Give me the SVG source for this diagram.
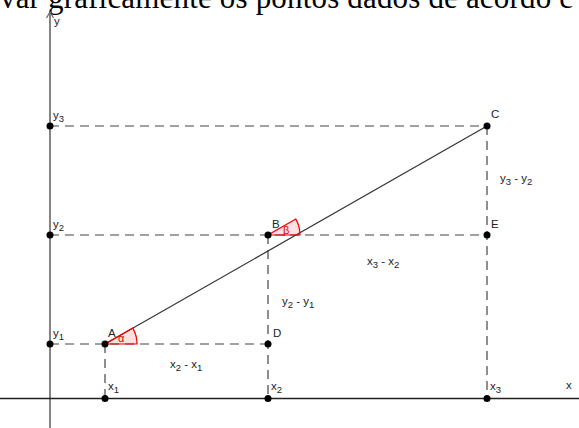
<svg xmlns="http://www.w3.org/2000/svg" width="579" height="428" viewBox="0 0 579 428">
<style>
.lbl{font-family:"Liberation Sans",Arial,sans-serif;font-size:11.5px;fill:#222}
.sub{font-size:9.5px}
.dash{stroke:#444;stroke-width:1.2;stroke-dasharray:9,6;fill:none}
.pt{fill:#000}
.ang{fill:rgba(255,0,0,0.12);stroke:#e00;stroke-width:1.2}
.gr{font-family:"Liberation Sans",Arial,sans-serif;font-size:11px;fill:#d00}
</style>
<rect width="579" height="428" fill="#fff"/>
<text x="0" y="8" font-family="Liberation Serif,'Times New Roman',serif" font-size="31" fill="#000" textLength="573" lengthAdjust="spacing">var graficamente os pontos dados de acordo c</text>
<g id="axes">
<line x1="50" y1="12" x2="50" y2="428" stroke="#666" stroke-width="1.6"/>
<path d="M46.5,18 L50,12 L53.5,18" fill="none" stroke="#666" stroke-width="1.2"/>
<line x1="0" y1="398.5" x2="579" y2="398.5" stroke="#222" stroke-width="1.3"/>
<text class="lbl" x="54" y="25">y</text>
<text class="lbl" x="566" y="389">x</text>
</g>
<g id="connectors">
<line class="dash" x1="50" y1="126" x2="487" y2="126"/>
<line class="dash" x1="50" y1="235" x2="487" y2="235"/>
<line class="dash" x1="50" y1="344" x2="268" y2="344"/>
<line class="dash" x1="105" y1="344" x2="105" y2="398"/>
<line class="dash" x1="268" y1="235" x2="268" y2="398"/>
<line class="dash" x1="487" y1="126" x2="487" y2="398"/>
<line x1="105" y1="344" x2="487" y2="126" stroke="#333" stroke-width="1.2"/>
</g>
<g id="angle-alpha">
<path class="ang" d="M105,344 L137,344 A32,32 0 0 0 132.8,328.1 Z"/>
<text class="gr" x="118" y="342">α</text>
</g>
<g id="angle-beta">
<path class="ang" d="M268,235 L300,235 A32,32 0 0 0 295.8,219.1 Z"/>
<text class="gr" x="283" y="234">β</text>
</g>
<g id="A"><circle class="pt" cx="105" cy="344" r="3.5"/><text class="lbl" x="108" y="337">A</text></g>
<g id="B"><circle class="pt" cx="268" cy="235" r="3.5"/><text class="lbl" x="272" y="228">B</text></g>
<g id="C"><circle class="pt" cx="487" cy="126" r="3.5"/><text class="lbl" x="491" y="118">C</text></g>
<g id="D"><circle class="pt" cx="268" cy="344" r="3.5"/><text class="lbl" x="273" y="337">D</text></g>
<g id="E"><circle class="pt" cx="487" cy="235" r="3.5"/><text class="lbl" x="491" y="228">E</text></g>
<g id="y1"><circle class="pt" cx="50" cy="344" r="3.5"/><text class="lbl" x="53" y="337">y<tspan class="sub" dy="3">1</tspan></text></g>
<g id="y2"><circle class="pt" cx="50" cy="235" r="3.5"/><text class="lbl" x="53" y="228">y<tspan class="sub" dy="3">2</tspan></text></g>
<g id="y3"><circle class="pt" cx="50" cy="126" r="3.5"/><text class="lbl" x="53" y="119">y<tspan class="sub" dy="3">3</tspan></text></g>
<g id="x1"><circle class="pt" cx="105" cy="398.5" r="3.5"/><text class="lbl" x="108" y="390">x<tspan class="sub" dy="3">1</tspan></text></g>
<g id="x2"><circle class="pt" cx="268" cy="398.5" r="3.5"/><text class="lbl" x="271" y="390">x<tspan class="sub" dy="3">2</tspan></text></g>
<g id="x3"><circle class="pt" cx="487" cy="398.5" r="3.5"/><text class="lbl" x="490" y="390">x<tspan class="sub" dy="3">3</tspan></text></g>
<g id="labels">
<text class="lbl" x="170" y="368">x<tspan class="sub" dy="3">2</tspan><tspan dy="-3"> - x</tspan><tspan class="sub" dy="3">1</tspan></text>
<text class="lbl" x="282" y="305">y<tspan class="sub" dy="3">2</tspan><tspan dy="-3"> - y</tspan><tspan class="sub" dy="3">1</tspan></text>
<text class="lbl" x="500" y="182">y<tspan class="sub" dy="3">3</tspan><tspan dy="-3"> - y</tspan><tspan class="sub" dy="3">2</tspan></text>
<text class="lbl" x="367" y="265">x<tspan class="sub" dy="3">3</tspan><tspan dy="-3"> - x</tspan><tspan class="sub" dy="3">2</tspan></text>
</g>
</svg>
